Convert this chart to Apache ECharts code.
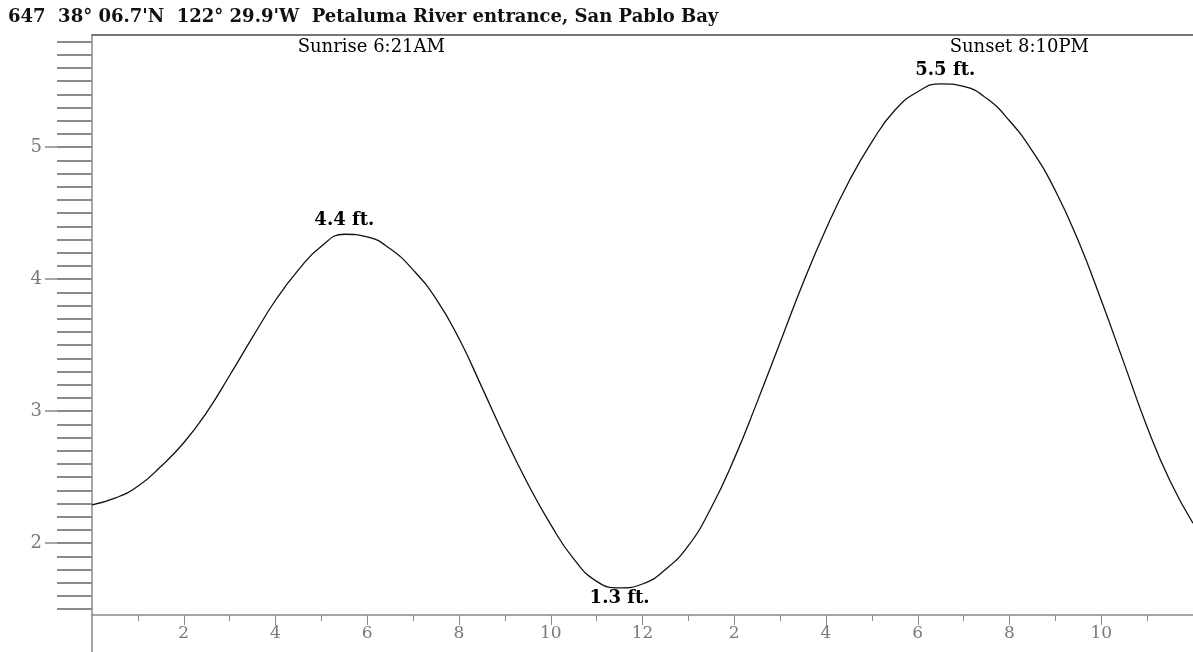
<!DOCTYPE html>
<html>
<head>
<meta charset="utf-8">
<script src="https://cdn.jsdelivr.net/npm/echarts@6/dist/echarts.min.js"></script>
<style>
  html, body { margin: 0; padding: 0; background: #fff; }
  #chart { width: 1193px; height: 652px; }
</style>
</head>
<body>
<div id="chart"></div>
<script>
// tide curve, hours after midnight -> feet
const hours = [0, 0.5, 1, 1.5, 2, 2.5, 3, 3.5, 4, 4.5, 5, 5.5, 6, 6.5, 7, 7.5, 8, 8.5, 9, 9.5, 10, 10.5, 11, 11.5, 12,
  12.5, 13, 13.5, 14, 14.5, 15, 15.5, 16, 16.5, 17, 17.5, 18, 18.5, 19, 19.5, 20, 20.5, 21, 21.5, 22, 22.5, 23, 23.5, 24]
const heights = [2.29, 2.34, 2.43, 2.58, 2.76, 2.99, 3.27, 3.56, 3.84, 4.07, 4.25, 4.34, 4.32, 4.23, 4.07, 3.85, 3.55, 3.18, 2.80, 2.45, 2.14, 1.88, 1.71, 1.66, 1.69,
  1.80, 1.98, 2.27, 2.64, 3.07, 3.52, 3.97, 4.38, 4.74, 5.04, 5.28, 5.42, 5.48, 5.46, 5.37, 5.20, 4.97, 4.67, 4.29, 3.84, 3.36, 2.88, 2.47, 2.15]

// high / low water labels
const extremeHours = [5.5, 11.5, 18.6]
const extremeHeights = [4.34, 1.66, 5.48]
const extremeLabels = ['4.4 ft.', '1.3 ft.', '5.5 ft.']
const extremeIsLow = [false, true, false]

// sun events
const sunHours = [6.35, 20.17]
const sunLabels = ['Sunrise 6:21AM', 'Sunset 8:10PM']

// axes
const yMajor = [2, 3, 4, 5]
const xLabelHours = [2, 4, 6, 8, 10, 12, 14, 16, 18, 20, 22]
const xLabelText = ['2', '4', '6', '8', '10', '12', '2', '4', '6', '8', '10']
const xOddHours = [1, 3, 5, 7, 9, 11, 13, 15, 17, 19, 21, 23]

const title = "647  38\u00b0 06.7'N  122\u00b0 29.9'W  Petaluma River entrance, San Pablo Bay"

const yMin = 1.455
const yMax = 5.85
const yMinor = []
for (let i = 15; i <= 58; i++) yMinor.push(i / 10)

const axisGray = '#8a8a8a'
const serif = 'DejaVu Serif'

const chart = echarts.init(document.getElementById('chart'))

chart.setOption({
  animation: false,
  title: {
    text: title,
    left: 3,
    top: 3,
    textStyle: { fontFamily: serif, fontSize: 18, fontWeight: 'bold', color: '#111' }
  },
  grid: { left: 92, right: 0, top: 35, bottom: 37 },
  xAxis: [{
    type: 'value', min: 0, max: 24, position: 'bottom',
    axisLine: { show: true, lineStyle: { color: axisGray, width: 1.5 } },
    axisTick: { show: true, customValues: xOddHours, length: 6, lineStyle: { color: axisGray } },
    axisLabel: { show: false },
    splitLine: { show: false }
  }, {
    type: 'value', min: 0, max: 24, position: 'bottom',
    axisLine: { show: false },
    axisTick: { show: true, customValues: xLabelHours, length: 10, lineStyle: { color: axisGray } },
    axisLabel: {
      show: true, customValues: xLabelHours, margin: 10,
      color: '#7a7a7a', fontFamily: serif, fontSize: 17,
      formatter: v => xLabelText[xLabelHours.indexOf(v)]
    },
    splitLine: { show: false }
  }, {
    type: 'value', min: 0, max: 24, position: 'top',
    axisLine: { show: true, lineStyle: { color: '#777', width: 2 } },
    axisTick: { show: false },
    axisLabel: { show: false },
    splitLine: { show: false }
  }],
  yAxis: [{
    type: 'value', min: yMin, max: yMax, position: 'left',
    axisLine: { show: true, lineStyle: { color: axisGray, width: 1.5 } },
    axisTick: { show: true, customValues: yMinor, length: 35, lineStyle: { color: axisGray, width: 2 } },
    axisLabel: { show: false },
    splitLine: { show: false }
  }, {
    type: 'value', min: yMin, max: yMax, position: 'left',
    axisLine: { show: false },
    axisTick: { show: true, customValues: yMajor, length: 47, lineStyle: { color: axisGray, width: 1.5 } },
    axisLabel: {
      show: true, customValues: yMajor, margin: 50,
      color: '#7a7a7a', fontFamily: serif, fontSize: 18
    },
    splitLine: { show: false }
  }],
  graphic: [{
    type: 'line',
    shape: { x1: 92, y1: 615, x2: 92, y2: 652 },
    style: { stroke: axisGray, lineWidth: 1.5 }
  }],
  series: [{
    type: 'line',
    data: hours.map((h, i) => [h, heights[i]]),
    smooth: true,
    symbol: 'none',
    lineStyle: { color: '#111', width: 1.3 },
    markPoint: {
      symbol: 'circle',
      symbolSize: 0,
      silent: true,
      label: { color: '#000', fontFamily: serif, fontSize: 18 },
      data: extremeHours.map((h, i) => ({
        coord: [h, extremeHeights[i]],
        label: {
          formatter: extremeLabels[i],
          fontWeight: 'bold',
          position: extremeIsLow[i] ? 'bottom' : 'top',
          distance: extremeIsLow[i] ? 1 : 5
        }
      })).concat(sunHours.map((h, i) => ({
        coord: [h, yMax],
        label: { formatter: sunLabels[i], position: 'bottom', distance: 3, offset: [i === 0 ? -12 : 2, 0] }
      })))
    }
  }]
})
</script>
</body>
</html>
